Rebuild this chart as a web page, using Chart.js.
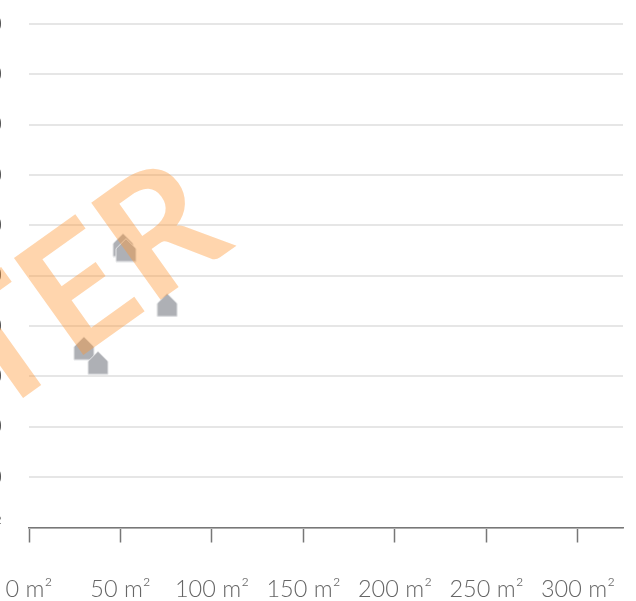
<!DOCTYPE html>
<html>
<head>
<meta charset="utf-8">
<style>
  html, body { margin: 0; padding: 0; background: #fff; overflow: hidden; width: 636px; height: 601px; }
  #wrap { position: absolute; left: -60px; top: 0; width: 696px; height: 601px; }
</style>
<script src="https://cdn.jsdelivr.net/npm/chart.js@4"></script>
</head>
<body>
<div id="wrap"><canvas id="chart"></canvas></div>
<script>
const flatSizes = [75.5, 51.4, 53, 30, 37.7];
const flatPrices = [4420, 5610, 5510, 3560, 3270];
const xTickLabels = ['0 m²', '50 m²', '100 m²', '150 m²', '200 m²', '250 m²', '300 m²'];
const yTickLabels = ['€/m²', '1 000', '2 000', '3 000', '4 000', '5 000', '6 000', '7 000', '8 000', '9 000', '10 000'];
const watermark = 'MUSTER';

function houseIcon() {
    const c = document.createElement('canvas');
    c.width = 22;
    c.height = 25;
    const g = c.getContext('2d');
    g.beginPath();
    g.moveTo(11, 1);
    g.lineTo(21, 11);
    g.lineTo(21, 24);
    g.lineTo(1, 24);
    g.lineTo(1, 11);
    g.closePath();
    g.fillStyle = '#aeb0b5';
    g.fill();
    g.strokeStyle = '#e4e5e7';
    g.lineWidth = 1;
    g.stroke();
    return c;
}

const watermarkPlugin = {
    id: 'watermark',
    afterDatasetsDraw(chart) {
        const ctx = chart.ctx;
        ctx.save();
        ctx.translate(60 + 236, 246);
        ctx.rotate(-35.5 * Math.PI / 180);
        ctx.font = '700 165px Lato';
        ctx.textAlign = 'right';
        ctx.textBaseline = 'alphabetic';
        ctx.fillStyle = 'rgba(255, 150, 50, 0.4)';
        ctx.fillText(watermark, 0, 0);
        ctx.restore();
    }
};

new Chart(document.getElementById('chart'), {
    type: 'scatter',
    data: {
        datasets: [{
            data: flatSizes.map((x, i) => ({ x: x, y: flatPrices[i] })),
            pointStyle: houseIcon(),
            clip: false
        }]
    },
    options: {
        responsive: true,
        maintainAspectRatio: false,
        animation: false,
        layout: { padding: { top: 24, right: 13, left: 0, bottom: 0 } },
        plugins: {
            legend: { display: false },
            tooltip: { enabled: false }
        },
        scales: {
            x: {
                type: 'linear',
                min: 0,
                max: 324.6,
                afterFit: s => { s.height = 73.5; s.paddingLeft = 0; s.paddingRight = 0; },
                afterBuildTicks: s => { s.ticks = xTickLabels.map((_, i) => ({ value: i * 50 })); },
                grid: { drawOnChartArea: false, tickLength: 15, tickColor: '#777', tickWidth: 1.5 },
                border: { color: '#777', width: 1.5 },
                ticks: {
                    autoSkip: false,
                    maxRotation: 0,
                    padding: 33,
                    color: '#666',
                    font: { family: 'Lato', size: 23.5, weight: 300 },
                    callback: (v, i) => xTickLabels[i]
                }
            },
            y: {
                min: 0,
                max: 10000,
                afterFit: s => { s.width = 89; s.paddingTop = 0; s.paddingBottom = 0; },
                grid: { color: '#e6e6e6', lineWidth: 2, drawTicks: false },
                border: { display: false },
                ticks: {
                    stepSize: 1000,
                    padding: 27,
                    color: '#555',
                    font: { family: 'Lato', size: 23.5, weight: 300 },
                    callback: (v, i) => yTickLabels[i]
                }
            }
        }
    },
    plugins: [watermarkPlugin]
});
</script>
</body>
</html>
